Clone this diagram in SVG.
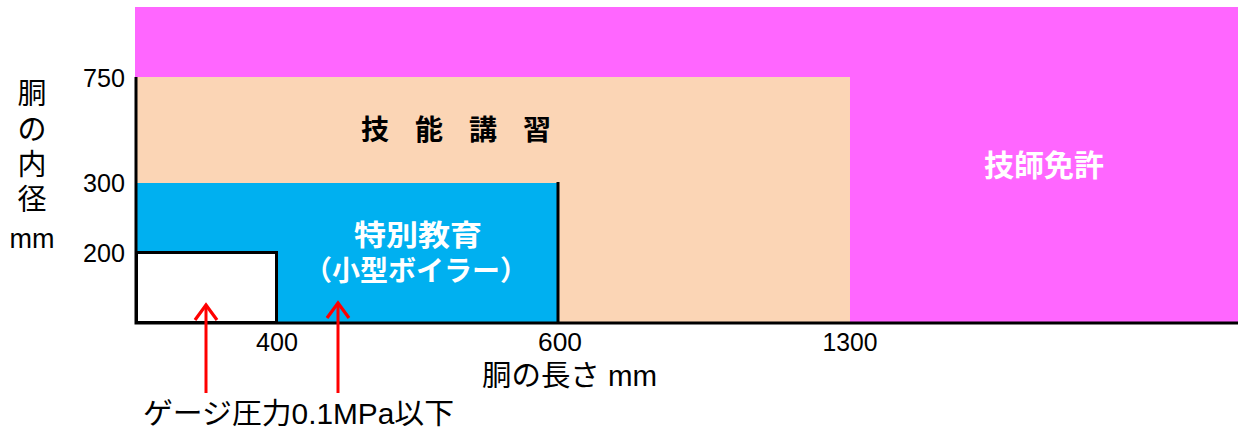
<svg xmlns="http://www.w3.org/2000/svg" width="1240" height="430" viewBox="0 0 1240 430">
  <style>
    .t { font-family: "Liberation Sans", "Noto Sans CJK JP", sans-serif; fill: #000; }
    .num { font-size: 26px; }
    .ax { font-size: 29px; }
    .w { fill: #fff; font-weight: bold; }
    .axis { stroke: #000; stroke-width: 3; fill: none; }
    .arrow { stroke: #ff0000; stroke-width: 3; fill: none; }
  </style>
  <defs>
    <marker id="ah" viewBox="0 0 20 26" refX="17" refY="13" markerWidth="20" markerHeight="26" markerUnits="userSpaceOnUse" orient="auto">
      <polyline points="2,2 17,13 2,24" fill="none" stroke="#ff0000" stroke-width="3.2"/>
    </marker>
  </defs>
  <rect width="1240" height="430" fill="#fff"/>

  <g id="gishi-menkyo">
    <rect x="135" y="7" width="1103" height="315" fill="#ff66ff"/>
    <text class="t w" x="1044" y="176" font-size="30" text-anchor="middle">技師免許</text>
  </g>
  <g id="gino-koshu">
    <rect x="137" y="77" width="713" height="245" fill="#fbd5b5"/>
    <text class="t" x="456" y="140" font-size="28" font-weight="bold" text-anchor="middle" textLength="190" lengthAdjust="spacing">技 能 講 習</text>
  </g>
  <g id="tokubetsu-kyoiku">
    <rect x="137" y="183" width="421" height="139" fill="#00b0f0"/>
    <text class="t w" x="418" y="246" font-size="29" text-anchor="middle" textLength="128" lengthAdjust="spacingAndGlyphs">特別教育</text>
    <text class="t w" x="416" y="281" font-size="28" text-anchor="middle">（小型ボイラー）</text>
  </g>
  <g id="gauge-box">
    <rect x="136.5" y="252.5" width="140" height="70" fill="#fff" stroke="#000" stroke-width="3"/>
  </g>

  <g id="axes">
    <polyline class="axis" points="136,77 136,323 1238,323"/>
    <line class="axis" x1="558" y1="182" x2="558" y2="323"/>
    <text class="t num" x="125" y="87" text-anchor="end" textLength="42" lengthAdjust="spacingAndGlyphs">750</text>
    <text class="t num" x="125" y="192" text-anchor="end" textLength="42" lengthAdjust="spacingAndGlyphs">300</text>
    <text class="t num" x="125" y="262" text-anchor="end" textLength="42" lengthAdjust="spacingAndGlyphs">200</text>
    <text class="t num" x="277" y="351" text-anchor="middle" textLength="42" lengthAdjust="spacingAndGlyphs">400</text>
    <text class="t num" x="560" y="351" text-anchor="middle" textLength="44" lengthAdjust="spacingAndGlyphs">600</text>
    <text class="t num" x="850" y="351" text-anchor="middle" textLength="55" lengthAdjust="spacingAndGlyphs">1300</text>
    <text class="t ax" x="482" y="386" textLength="175" lengthAdjust="spacingAndGlyphs">胴の長さ mm</text>
    <text class="t ax" x="32" y="104" text-anchor="middle">胴</text>
    <text class="t ax" x="32" y="140" text-anchor="middle">の</text>
    <text class="t ax" x="32" y="175" text-anchor="middle">内</text>
    <text class="t ax" x="32" y="210" text-anchor="middle">径</text>
    <text class="t" x="32" y="248" font-size="27" text-anchor="middle">mm</text>
  </g>

  <g id="connectors">
    <line class="arrow" x1="206" y1="393" x2="206" y2="305" marker-end="url(#ah)"/>
    <line class="arrow" x1="338" y1="393" x2="338" y2="303" marker-end="url(#ah)"/>
  </g>

  <g id="note">
    <text class="t" x="143" y="424" font-size="29" textLength="311" lengthAdjust="spacingAndGlyphs">ゲージ圧力0.1MPa以下</text>
  </g>
</svg>
